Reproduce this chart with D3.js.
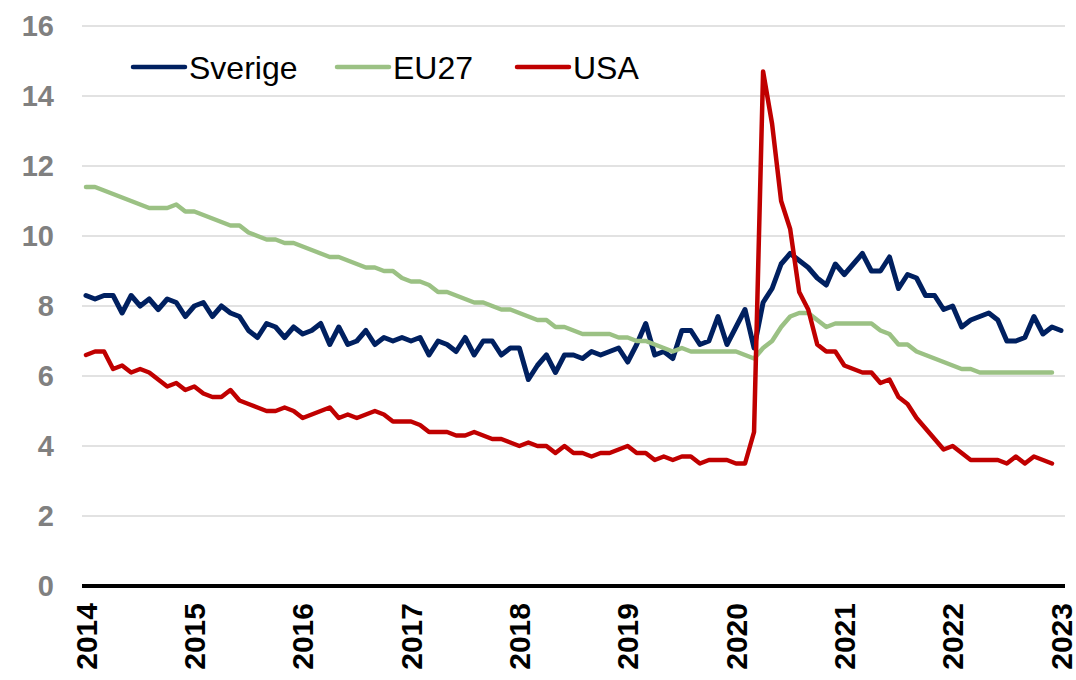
<!DOCTYPE html>
<html>
<head>
<meta charset="utf-8">
<script src="https://cdn.jsdelivr.net/npm/d3@7"></script>
<style>
  body { margin: 0; background: #fff; }
  svg { display: block; font-family: Arial, "Liberation Sans", sans-serif; }
</style>
</head>
<body>
<div class="chart"></div>
<script>
// monthly values, Jan 2014 onwards
const sverige = [
  8.3,8.2,8.3,8.3,7.8,8.3,8.0,8.2,7.9,8.2,8.1,7.7,
  8.0,8.1,7.7,8.0,7.8,7.7,7.3,7.1,7.5,7.4,7.1,7.4,
  7.2,7.3,7.5,6.9,7.4,6.9,7.0,7.3,6.9,7.1,7.0,7.1,
  7.0,7.1,6.6,7.0,6.9,6.7,7.1,6.6,7.0,7.0,6.6,6.8,
  6.8,5.9,6.3,6.6,6.1,6.6,6.6,6.5,6.7,6.6,6.7,6.8,
  6.4,6.9,7.5,6.6,6.7,6.5,7.3,7.3,6.9,7.0,7.7,6.9,
  7.4,7.9,6.8,8.1,8.5,9.2,9.5,9.3,9.1,8.8,8.6,9.2,
  8.9,9.2,9.5,9.0,9.0,9.4,8.5,8.9,8.8,8.3,8.3,7.9,
  8.0,7.4,7.6,7.7,7.8,7.6,7.0,7.0,7.1,7.7,7.2,7.4,
  7.3
];
const eu27 = [
  11.4,11.4,11.3,11.2,11.1,11.0,10.9,10.8,10.8,10.8,10.9,10.7,
  10.7,10.6,10.5,10.4,10.3,10.3,10.1,10.0,9.9,9.9,9.8,9.8,
  9.7,9.6,9.5,9.4,9.4,9.3,9.2,9.1,9.1,9.0,9.0,8.8,
  8.7,8.7,8.6,8.4,8.4,8.3,8.2,8.1,8.1,8.0,7.9,7.9,
  7.8,7.7,7.6,7.6,7.4,7.4,7.3,7.2,7.2,7.2,7.2,7.1,
  7.1,7.0,7.0,6.9,6.8,6.7,6.8,6.7,6.7,6.7,6.7,6.7,
  6.7,6.6,6.5,6.8,7.0,7.4,7.7,7.8,7.8,7.6,7.4,7.5,
  7.5,7.5,7.5,7.5,7.3,7.2,6.9,6.9,6.7,6.6,6.5,6.4,
  6.3,6.2,6.2,6.1,6.1,6.1,6.1,6.1,6.1,6.1,6.1,6.1
];
const usa = [
  6.6,6.7,6.7,6.2,6.3,6.1,6.2,6.1,5.9,5.7,5.8,5.6,
  5.7,5.5,5.4,5.4,5.6,5.3,5.2,5.1,5.0,5.0,5.1,5.0,
  4.8,4.9,5.0,5.1,4.8,4.9,4.8,4.9,5.0,4.9,4.7,4.7,
  4.7,4.6,4.4,4.4,4.4,4.3,4.3,4.4,4.3,4.2,4.2,4.1,
  4.0,4.1,4.0,4.0,3.8,4.0,3.8,3.8,3.7,3.8,3.8,3.9,
  4.0,3.8,3.8,3.6,3.7,3.6,3.7,3.7,3.5,3.6,3.6,3.6,
  3.5,3.5,4.4,14.7,13.2,11.0,10.2,8.4,7.9,6.9,6.7,6.7,
  6.3,6.2,6.1,6.1,5.8,5.9,5.4,5.2,4.8,4.5,4.2,3.9,
  4.0,3.8,3.6,3.6,3.6,3.6,3.5,3.7,3.5,3.7,3.6,3.5
];
const years = [2014,2015,2016,2017,2018,2019,2020,2021,2022,2023];
const yTicks = [0,2,4,6,8,10,12,14,16];

const series = [
  {name: "Sverige", values: sverige, color: "#002060", width: 5},
  {name: "EU27", values: eu27, color: "#9bc184", width: 4.5},
  {name: "USA", values: usa, color: "#c00000", width: 4.5}
];

const width = 1076, height = 680;
const plotLeft = 82, plotRight = 1065;

const svg = d3.select(".chart").append("svg")
    .attr("width", width)
    .attr("height", height);

// month index -> x, Jan 2014 = 0
const x = d3.scaleLinear().domain([0, 108]).range([86, 1061]);
const y = d3.scaleLinear().domain([0, 16]).range([586, 26]);

// gridlines
svg.append("g")
    .selectAll("line")
    .data(yTicks.filter(d => d > 0))
    .join("line")
    .attr("x1", plotLeft).attr("x2", plotRight)
    .attr("y1", d => y(d)).attr("y2", d => y(d))
    .attr("stroke", "#d9d9d9")
    .attr("stroke-width", 1.5);

// y labels
svg.append("g")
    .selectAll("text")
    .data(yTicks)
    .join("text")
    .attr("x", 54)
    .attr("y", d => y(d))
    .attr("dy", "0.36em")
    .attr("text-anchor", "end")
    .attr("fill", "#808080")
    .attr("font-weight", "bold")
    .attr("font-size", 29)
    .text(d => d);

// lines
const line = d3.line()
    .x((d, i) => x(i))
    .y(d => y(d));

svg.append("g")
    .selectAll("path")
    .data(series)
    .join("path")
    .attr("d", d => line(d.values))
    .attr("fill", "none")
    .attr("stroke", d => d.color)
    .attr("stroke-width", d => d.width)
    .attr("stroke-linejoin", "round")
    .attr("stroke-linecap", "round");

// zero axis
svg.append("line")
    .attr("x1", plotLeft).attr("x2", plotRight)
    .attr("y1", y(0)).attr("y2", y(0))
    .attr("stroke", "#000")
    .attr("stroke-width", 4);

// year labels, rotated
svg.append("g")
    .selectAll("text")
    .data(years)
    .join("text")
    .attr("transform", (d, i) => `translate(${x(i * 12)},603) rotate(-90)`)
    .attr("dy", "0.35em")
    .attr("text-anchor", "end")
    .attr("font-weight", "bold")
    .attr("font-size", 30)
    .attr("fill", "#000")
    .text(d => d);

// legend
const legendX = [133, 337, 517];
const legend = svg.append("g")
    .selectAll("g")
    .data(series)
    .join("g")
    .attr("transform", (d, i) => `translate(${legendX[i]},67)`);

legend.append("line")
    .attr("x1", 0).attr("x2", 52)
    .attr("stroke", d => d.color)
    .attr("stroke-width", 4.5)
    .attr("stroke-linecap", "round");

legend.append("text")
    .attr("x", 56)
    .attr("dy", "0.36em")
    .attr("font-size", 32)
    .attr("fill", "#000")
    .text(d => d.name);
</script>
</body>
</html>
